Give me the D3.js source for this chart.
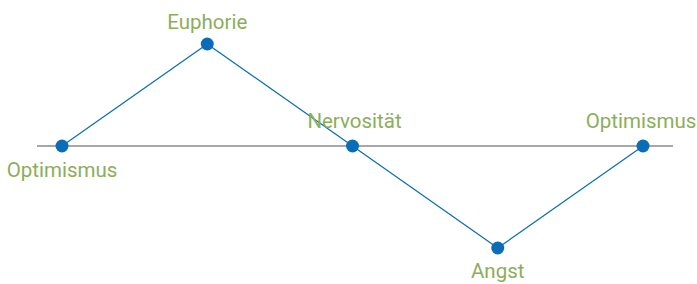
<!DOCTYPE html>
<html><head><meta charset="utf-8">
<script src="https://cdn.jsdelivr.net/npm/d3@7"></script>
<style>html,body{margin:0;padding:0;background:#fff;}svg{display:block;}</style>
</head><body>
<svg id="c" width="697" height="284"></svg>
<script>
const phases = ["Optimismus", "Euphorie", "Nervosität", "Angst", "Optimismus "];
const levels = [0, 1, 0, -1, 0];
const labelSide = ["below", "above", "above", "below", "above"];

const svg = d3.select("#c");
const x = d3.scalePoint().domain(phases).range([62, 643]);
const y = d3.scaleLinear().domain([-1, 1]).range([248, 44]);

const green = "#8cae5a", blue = "#0a6db8";

svg.append("line")
  .attr("x1", 37).attr("x2", 673)
  .attr("y1", y(0)).attr("y2", y(0))
  .attr("stroke", "#8a8a8a").attr("stroke-width", 1.5);

const line = d3.line().x((d, i) => x(phases[i])).y(d => y(d));
svg.append("path").datum(levels)
  .attr("d", line).attr("fill", "none")
  .attr("stroke", blue).attr("stroke-width", 1.2);

svg.selectAll("circle.pt").data(levels).join("circle")
  .attr("class", "pt")
  .attr("cx", (d, i) => x(phases[i])).attr("cy", d => y(d))
  .attr("r", 6.5).attr("fill", blue);

const dy = [31, -15, -18, 30, -18];
const dx = [0, 0, 2, 0, -2];
svg.selectAll("text.lbl").data(phases).join("text")
  .attr("class", "lbl")
  .attr("x", (d, i) => x(d) + dx[i])
  .attr("y", (d, i) => y(levels[i]) + dy[i])
  .attr("text-anchor", "middle")
  .attr("font-family", "Roboto, 'Open Sans', sans-serif")
  .attr("font-size", 20.5)
  .attr("fill", green)
  .text(d => d.trim());
</script>
</body></html>
